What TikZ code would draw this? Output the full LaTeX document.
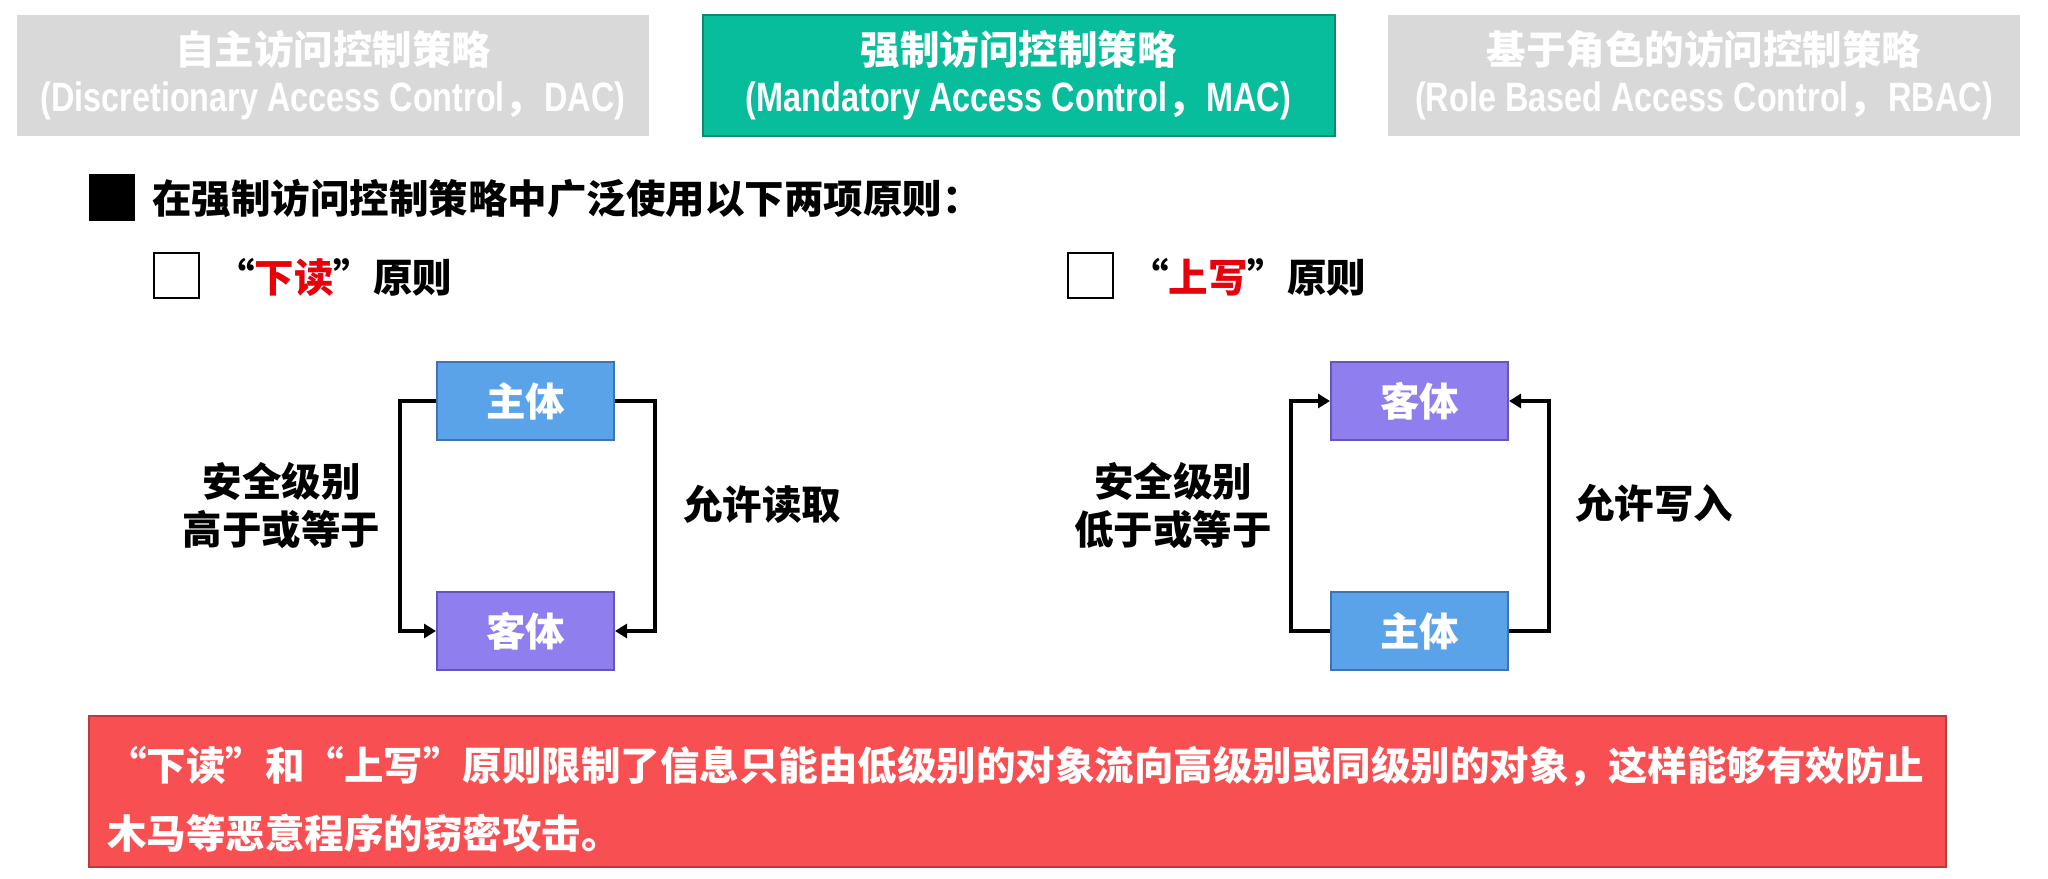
\documentclass[tikz,border=0pt]{standalone}
\usepackage{fontspec}
\setmainfont{Noto Sans CJK SC}[BoldFont={Noto Sans CJK SC Black}]
\newfontfamily\latn{Liberation Sans}[FakeStretch=0.79]
\usetikzlibrary{arrows.meta}
\definecolor{tabgrey}{HTML}{D9D9D9}
\definecolor{tabteal}{HTML}{07BD9B}
\definecolor{tabtealedge}{HTML}{0A8A6E}
\definecolor{subjblue}{HTML}{5BA3E8}
\definecolor{subjedge}{HTML}{3E73B5}
\definecolor{objpurple}{HTML}{8E7EEE}
\definecolor{objedge}{HTML}{6456BD}
\definecolor{notered}{HTML}{F85052}
\definecolor{noteedge}{HTML}{BE3A3A}
\definecolor{alertred}{HTML}{E8000B}
\begin{document}
\begin{tikzpicture}[x=0.5pt,y=-0.5pt,
  every node/.style={font=\bfseries\fontsize{19.75}{24}\selectfont},
  tab/.style={minimum width=316pt, minimum height=60.5pt, inner sep=0pt, align=center, text=white, line width=1pt, font=\bfseries\fontsize{19.75}{23.5}\selectfont},
  tabgray/.style={tab, fill=tabgrey},
  tabon/.style={tab, fill=tabteal, draw=tabtealedge},
  ent/.style={minimum width=88.5pt, minimum height=39pt, inner sep=0pt, text=white, line width=1pt},
  subj/.style={ent, fill=subjblue, draw=subjedge},
  obj/.style={ent, fill=objpurple, draw=objedge},
  conn/.style={line width=1.6pt, -{Triangle[length=6pt,width=7pt]}},
  lbl/.style={align=center, inner sep=0pt},
  cbox/.style={draw, line width=1pt, minimum size=22.5pt, inner sep=0pt},
]
\useasboundingbox (0,0) rectangle (2048,878);

% top tabs
\node[tabgray] (dac) at (333,75.5) {自主访问控制策略\\{\latn\fontsize{20.5}{23.5}\selectfont (Discretionary Access Control}，{\latn\fontsize{20.5}{23.5}\selectfont DAC)}};
\node[tabon] (mac) at (1018.5,75.5) {强制访问控制策略\\{\latn\fontsize{20.5}{23.5}\selectfont (Mandatory Access Control}，{\latn\fontsize{20.5}{23.5}\selectfont MAC)}};
\node[tabgray] (rbac) at (1704,75.5) {基于角色的访问控制策略\\{\latn\fontsize{20.5}{23.5}\selectfont (Role Based Access Control}，{\latn\fontsize{20.5}{23.5}\selectfont RBAC)}};

% heading
\node[fill=black, minimum width=23pt, minimum height=23.5pt, inner sep=0pt] (bullet) at (112,197.5) {};
\node[anchor=west, inner sep=0pt] (head) at (152,199) {在强制访问控制策略中广泛使用以下两项原则：};

% sub headings
\node[cbox] (cb1) at (176.5,275) {};
\node[anchor=west, inner sep=0pt] (rd) at (215,277) {“{\color{alertred}下读}”原则};
\node[cbox] (cb2) at (1090.5,275) {};
\node[anchor=west, inner sep=0pt] (wu) at (1129,277) {“{\color{alertred}上写}”原则};

% left diagram
\node[subj] (s1) at (525.5,401) {主体};
\node[obj] (o1) at (525.5,631) {客体};
\draw[conn] (s1.west) -- ++(-36,0) |- (o1.west);
\draw[conn] (s1.east) -- ++(40,0) |- (o1.east);
\node[lbl] (l1) at (281.5,506) {安全级别\\高于或等于};
\node[lbl] (r1) at (762,504) {允许读取};

% right diagram
\node[obj] (o2) at (1419.5,401) {客体};
\node[subj] (s2) at (1419.5,631) {主体};
\draw[conn] (s2.west) -- ++(-39,0) |- (o2.west);
\draw[conn] (s2.east) -- ++(40,0) |- (o2.east);
\node[lbl] (l2) at (1173,506) {安全级别\\低于或等于};
\node[lbl] (r2) at (1654,503) {允许写入};

% bottom note
\node[draw=noteedge, fill=notered, line width=1pt, minimum width=928.5pt, minimum height=75.5pt, inner sep=0pt] (note) at (1017.5,791.5) {};
\node[anchor=west, align=left, inner sep=0pt, text=white, font=\bfseries\fontsize{19.75}{34}\selectfont] (notetext) at (107,799) {“下读”和“上写”原则限制了信息只能由低级别的对象流向高级别或同级别的对象，这样能够有效防止\\木马等恶意程序的窃密攻击。};
\end{tikzpicture}
\end{document}
